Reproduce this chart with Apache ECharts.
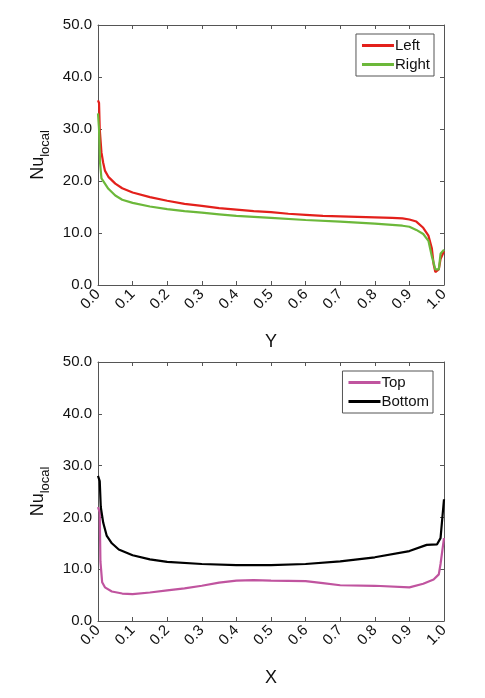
<!DOCTYPE html>
<html>
<head>
<meta charset="UTF-8">
<title>Nu local</title>
<script src="https://cdn.jsdelivr.net/npm/echarts@6/dist/echarts.min.js"></script>
<style>
html, body { margin: 0; padding: 0; background: #fff; }
#main { width: 485px; height: 698px; }
</style>
</head>
<body>
<div id="main"></div>
<script>
// top chart: Nu along Y on left / right walls
var leftY   = [0, 0.003, 0.005, 0.01, 0.015, 0.02, 0.03, 0.05, 0.07, 0.1, 0.15, 0.2, 0.25, 0.3, 0.35, 0.4, 0.45, 0.5, 0.55, 0.6, 0.65, 0.7, 0.75, 0.8, 0.85, 0.88, 0.9, 0.92, 0.94, 0.955, 0.965, 0.97, 0.975, 0.98, 0.985, 0.99, 1.0];
var leftNu  = [35.5, 35, 30, 25.5, 23.5, 22, 20.8, 19.5, 18.6, 17.8, 16.9, 16.2, 15.6, 15.2, 14.8, 14.5, 14.2, 14.0, 13.7, 13.5, 13.3, 13.2, 13.1, 13.0, 12.9, 12.8, 12.6, 12.2, 11.0, 9.5, 7, 4, 2.5, 2.3, 3, 5, 6.5];
var rightY  = [0, 0.003, 0.006, 0.01, 0.02, 0.03, 0.05, 0.07, 0.1, 0.15, 0.2, 0.25, 0.3, 0.35, 0.4, 0.5, 0.6, 0.7, 0.8, 0.88, 0.9, 0.92, 0.94, 0.955, 0.965, 0.975, 0.985, 0.99, 1.0];
var rightNu = [33, 30, 23.5, 20.5, 19.5, 18.5, 17.2, 16.4, 15.8, 15.1, 14.6, 14.2, 13.9, 13.6, 13.3, 12.9, 12.5, 12.2, 11.8, 11.4, 11.2, 10.6, 9.8, 8.5, 5.5, 3, 3, 6, 6.8];
// bottom chart: Nu along X on top / bottom walls
var topX     = [0, 0.005, 0.007, 0.012, 0.02, 0.04, 0.07, 0.1, 0.15, 0.2, 0.25, 0.3, 0.35, 0.4, 0.45, 0.5, 0.6, 0.65, 0.7, 0.8, 0.9, 0.94, 0.97, 0.985, 0.99, 1.0];
var topNu    = [22, 21, 11.5, 7.5, 6.5, 5.7, 5.3, 5.2, 5.5, 5.9, 6.3, 6.8, 7.4, 7.8, 7.9, 7.8, 7.7, 7.3, 6.9, 6.8, 6.5, 7.2, 8.0, 9, 11, 16];
var bottomX  = [0, 0.005, 0.008, 0.015, 0.025, 0.04, 0.06, 0.1, 0.15, 0.2, 0.3, 0.4, 0.5, 0.6, 0.7, 0.8, 0.9, 0.95, 0.98, 0.99, 1.0];
var bottomNu = [28, 27, 22, 19, 16.5, 15, 13.8, 12.7, 11.9, 11.4, 11.0, 10.8, 10.8, 11.0, 11.5, 12.3, 13.5, 14.7, 14.8, 16, 23.5];

function pairs(xs, ys) {
  return xs.map(function (x, i) { return [x, ys[i]]; });
}

var font = 'Liberation Sans, Arial, sans-serif';
var axisLine = { show: true, onZero: false, lineStyle: { color: '#555', width: 1 } };
var tick = { inside: true, length: 4, lineStyle: { color: '#555' } };

function xAx(idx, name) {
  return {
    type: 'value', gridIndex: idx, min: 0, max: 1, interval: 0.1,
    name: name, nameLocation: 'middle', nameGap: 48,
    nameTextStyle: { fontFamily: font, fontSize: 18, color: '#111' },
    axisLine: axisLine, axisTick: tick, splitLine: { show: false },
    axisLabel: { rotate: 45, fontFamily: font, fontSize: 15, color: '#111', margin: 7,
      formatter: function (v) { return v.toFixed(1); } }
  };
}
function xMirror(idx) {
  return { type: 'value', gridIndex: idx, position: 'top', min: 0, max: 1, interval: 0.1,
    axisLine: axisLine, axisTick: tick, axisLabel: { show: false }, splitLine: { show: false } };
}
function yAx(idx) {
  return {
    type: 'value', gridIndex: idx, min: 0, max: 50, interval: 10,
    name: '{a|Nu}{b|local}', nameLocation: 'middle', nameGap: 44,
    nameTextStyle: { rich: { a: { fontFamily: font, fontSize: 18, color: '#111' },
                            b: { fontFamily: font, fontSize: 13, color: '#111', padding: [14, 0, 0, 0] } } },
    axisLine: axisLine, axisTick: tick, splitLine: { show: false },
    axisLabel: { fontFamily: font, fontSize: 15, color: '#111', margin: 6,
      formatter: function (v) { return v.toFixed(1); } }
  };
}
function yMirror(idx) {
  return { type: 'value', gridIndex: idx, position: 'right', min: 0, max: 50, interval: 10,
    axisLine: axisLine, axisTick: tick, axisLabel: { show: false }, splitLine: { show: false } };
}
function legendBox(names, top, right) {
  return {
    data: names, orient: 'vertical', top: top, right: right,
    borderColor: '#555', borderWidth: 1, padding: [4, 4, 4, 6], itemGap: 4,
    itemWidth: 32, itemHeight: 3, icon: 'rect',
    textStyle: { fontFamily: font, fontSize: 15, color: '#111', padding: [0, 0, 0, -4] }
  };
}
function line(name, data, color, xi) {
  return { name: name, type: 'line', xAxisIndex: xi, yAxisIndex: xi, data: data,
    showSymbol: false, lineStyle: { color: color, width: 2.2 }, itemStyle: { color: color } };
}

var myChart = echarts.init(document.getElementById('main'));
myChart.setOption({
  animation: false,
  backgroundColor: '#fff',
  grid: [
    { left: 98, top: 25, width: 346, height: 260 },
    { left: 98, top: 362, width: 346, height: 259 }
  ],
  xAxis: [xAx(0, 'Y'), xAx(1, 'X'), xMirror(0), xMirror(1)],
  yAxis: [yAx(0), yAx(1), yMirror(0), yMirror(1)],
  legend: [legendBox(['Left', 'Right'], 34, 51), legendBox(['Top', 'Bottom'], 371, 52)],
  series: [
    line('Left', pairs(leftY, leftNu), '#e3201b', 0),
    line('Right', pairs(rightY, rightNu), '#6cb83a', 0),
    line('Top', pairs(topX, topNu), '#c0549f', 1),
    line('Bottom', pairs(bottomX, bottomNu), '#000000', 1)
  ]
});
</script>
</body>
</html>
